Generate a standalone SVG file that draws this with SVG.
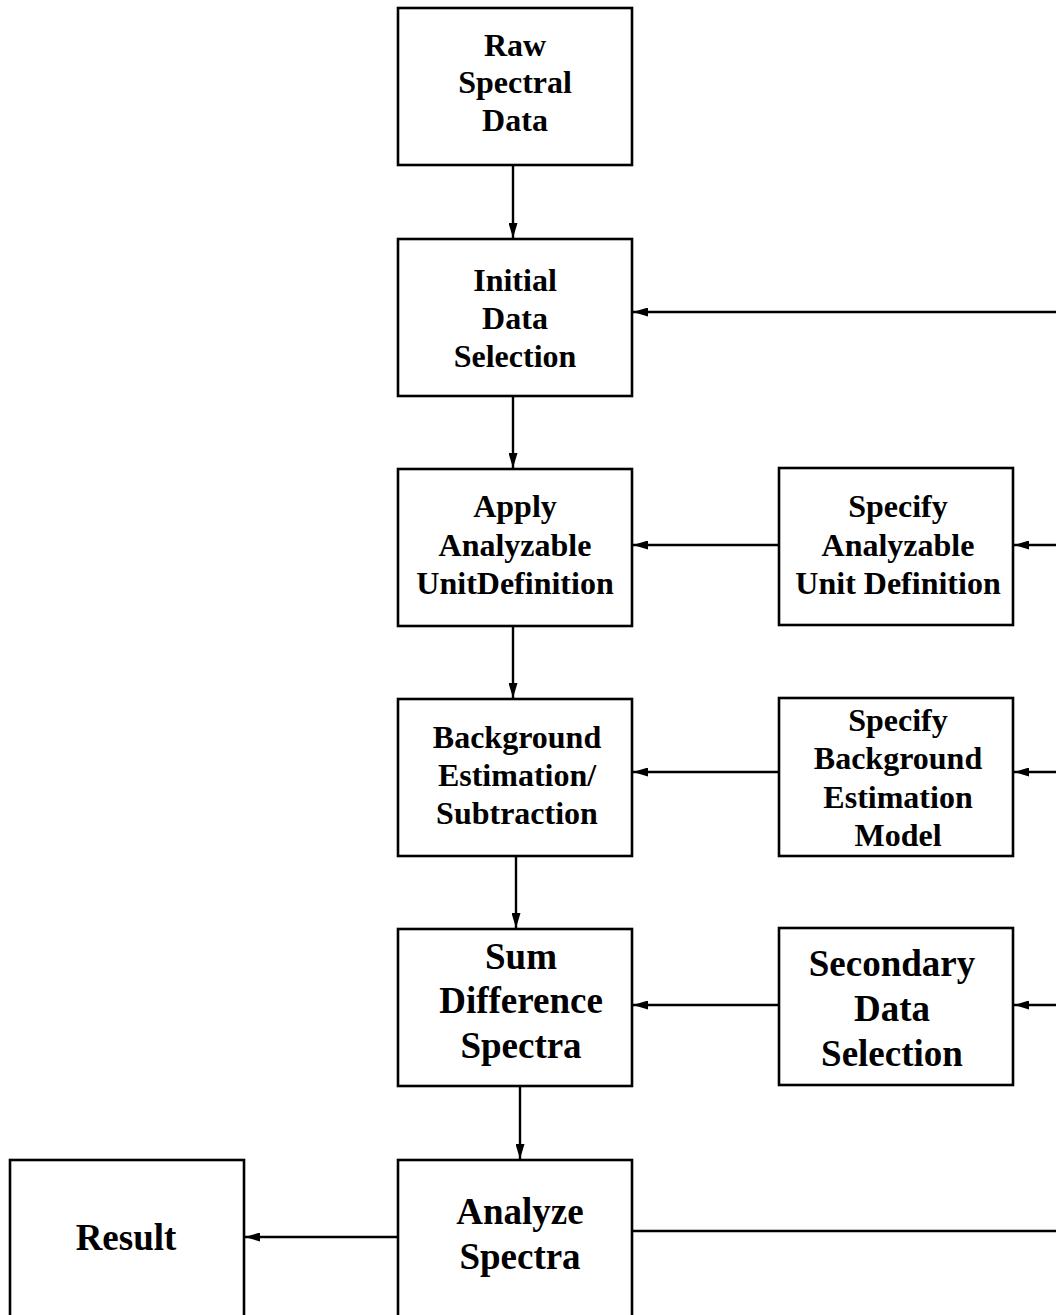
<svg xmlns="http://www.w3.org/2000/svg" width="1056" height="1315" viewBox="0 0 1056 1315">
<style>
.box{fill:#fff;stroke:#000;stroke-width:2.6}
.c{stroke:#000;stroke-width:2.4;fill:none}
text{font-family:"Liberation Serif","Times New Roman",serif;font-weight:bold;text-anchor:middle;fill:#000}
.s{font-size:32px}
.m{font-size:32px}
.l{font-size:37px}
</style>
<defs>
<marker id="ah" viewBox="0 0 15 9" refX="15" refY="4.5" markerWidth="15" markerHeight="9" markerUnits="userSpaceOnUse" orient="auto">
<path d="M0,0 L15,4.5 L0,9 Z" fill="#000"/>
</marker>
</defs>
<g id="connectors">
<line class="c" x1="513" y1="165" x2="513" y2="238" marker-end="url(#ah)"/>
<line class="c" x1="513" y1="396" x2="513" y2="468" marker-end="url(#ah)"/>
<line class="c" x1="513" y1="626" x2="513" y2="698" marker-end="url(#ah)"/>
<line class="c" x1="516" y1="856" x2="516" y2="928" marker-end="url(#ah)"/>
<line class="c" x1="520" y1="1086" x2="520" y2="1159" marker-end="url(#ah)"/>
<line class="c" x1="1056" y1="312" x2="633" y2="312" marker-end="url(#ah)"/>
<line class="c" x1="779" y1="545" x2="633" y2="545" marker-end="url(#ah)"/>
<line class="c" x1="1056" y1="545" x2="1014" y2="545" marker-end="url(#ah)"/>
<line class="c" x1="779" y1="772" x2="633" y2="772" marker-end="url(#ah)"/>
<line class="c" x1="1056" y1="772" x2="1014" y2="772" marker-end="url(#ah)"/>
<line class="c" x1="779" y1="1005" x2="633" y2="1005" marker-end="url(#ah)"/>
<line class="c" x1="1056" y1="1005" x2="1014" y2="1005" marker-end="url(#ah)"/>
<line class="c" x1="398" y1="1237" x2="245" y2="1237" marker-end="url(#ah)"/>
<line class="c" x1="632" y1="1231" x2="1056" y2="1231"/>
</g>
<g id="raw">
<rect class="box" x="398" y="8" width="234" height="157"/>
<text class="s" x="515" y="56">Raw</text>
<text class="s" x="515" y="93">Spectral</text>
<text class="s" x="515" y="131">Data</text>
</g>
<g id="initial">
<rect class="box" x="398" y="239" width="234" height="157"/>
<text class="s" x="515" y="291">Initial</text>
<text class="s" x="515" y="329">Data</text>
<text class="s" x="515" y="367">Selection</text>
</g>
<g id="apply">
<rect class="box" x="398" y="469" width="234" height="157"/>
<text class="s" x="515" y="517">Apply</text>
<text class="s" x="515" y="556">Analyzable</text>
<text class="s" x="515" y="594">UnitDefinition</text>
</g>
<g id="specify-unit">
<rect class="box" x="779" y="468" width="234" height="157"/>
<text class="s" x="898" y="517">Specify</text>
<text class="s" x="898" y="556">Analyzable</text>
<text class="s" x="898" y="594">Unit Definition</text>
</g>
<g id="background">
<rect class="box" x="398" y="699" width="234" height="157"/>
<text class="m" x="517" y="748">Background</text>
<text class="m" x="517" y="786">Estimation/</text>
<text class="m" x="517" y="824">Subtraction</text>
</g>
<g id="specify-background">
<rect class="box" x="779" y="698" width="234" height="158"/>
<text class="m" x="898" y="731">Specify</text>
<text class="m" x="898" y="769">Background</text>
<text class="m" x="898" y="808">Estimation</text>
<text class="m" x="898" y="846">Model</text>
</g>
<g id="sum">
<rect class="box" x="398" y="929" width="234" height="157"/>
<text class="l" x="521" y="969">Sum</text>
<text class="l" x="521" y="1013">Difference</text>
<text class="l" x="521" y="1058">Spectra</text>
</g>
<g id="secondary">
<rect class="box" x="779" y="928" width="234" height="157"/>
<text class="l" x="892" y="976">Secondary</text>
<text class="l" x="892" y="1021">Data</text>
<text class="l" x="892" y="1066">Selection</text>
</g>
<g id="analyze">
<rect class="box" x="398" y="1160" width="234" height="170"/>
<text class="l" x="520" y="1224">Analyze</text>
<text class="l" x="520" y="1269">Spectra</text>
</g>
<g id="result">
<rect class="box" x="10" y="1160" width="234" height="170"/>
<text class="l" x="126" y="1250">Result</text>
</g>
</svg>
